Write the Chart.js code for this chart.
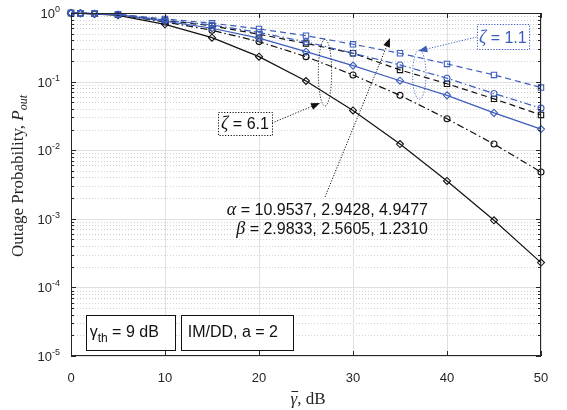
<!DOCTYPE html>
<html><head><meta charset="utf-8">
<script src="https://cdn.jsdelivr.net/npm/chart.js@4/dist/chart.umd.min.js"></script>
<style>html,body{margin:0;padding:0;background:#fff;}#wrap{width:567px;height:410px;}</style>
</head><body><div id="wrap"><canvas id="c" width="567" height="410"></canvas></div>
<script>
// ---- data ----
const gammaDb = [0, 1, 2.5, 5, 10, 15, 20, 25, 30, 35, 40, 45, 50];
const zeta61Solid   = [0.995, 0.99, 0.97, 0.925, 0.684, 0.437, 0.231, 0.102, 0.038, 0.0123, 0.00356, 0.00095, 0.00023];
const zeta61DashDot = [0.996, 0.99, 0.975, 0.94, 0.74, 0.56, 0.383, 0.231, 0.125, 0.063, 0.0287, 0.0123, 0.0048];
const zeta61Dashed  = [0.997, 0.99, 0.978, 0.95, 0.78, 0.65, 0.49, 0.36, 0.259, 0.148, 0.093, 0.056, 0.0327];
const zeta11Solid   = [0.997, 0.99, 0.976, 0.945, 0.76, 0.6, 0.43, 0.273, 0.171, 0.103, 0.063, 0.035, 0.0203];
const zeta11DashDot = [0.997, 0.992, 0.98, 0.955, 0.79, 0.67, 0.52, 0.38, 0.259, 0.175, 0.112, 0.067, 0.041];
const zeta11Dashed  = [0.998, 0.993, 0.982, 0.96, 0.82, 0.71, 0.585, 0.468, 0.35, 0.259, 0.181, 0.125, 0.082];
const xTickValues = [0, 10, 20, 30, 40, 50];
const yTickExponents = [0, -1, -2, -3, -4, -5];

const BLUE = '#3c5cbc', BLACK = '#111111', AXIS = '#262626';
const SANS = '"Liberation Sans", Arial, Helvetica, sans-serif';
const SERIF = '"Liberation Serif", "Times New Roman", serif';

function series(vals, color, dash, style, r) {
  return {
    data: gammaDb.map((g, i) => ({x: g, y: vals[i]})),
    borderColor: color, borderWidth: 1.2, borderDash: dash,
    pointStyle: style, pointRadius: r, pointHoverRadius: r,
    pointBorderColor: color, pointBackgroundColor: 'rgba(0,0,0,0)', pointBorderWidth: 1.1,
    fill: false, tension: 0, clip: false
  };
}
const DASH = [6, 4], DASHDOT = [7, 3, 1.5, 3];

function arrow(ctx, x1, y1, x2, y2, color) {
  ctx.save();
  ctx.strokeStyle = color; ctx.fillStyle = color; ctx.lineWidth = 1;
  ctx.setLineDash([1.2, 1.6]);
  const ang = Math.atan2(y2 - y1, x2 - x1), L = 9, W = 3.5;
  const bx = x2 - L * Math.cos(ang), by = y2 - L * Math.sin(ang);
  ctx.beginPath(); ctx.moveTo(x1, y1); ctx.lineTo(bx, by); ctx.stroke();
  ctx.setLineDash([]);
  ctx.beginPath(); ctx.moveTo(x2, y2);
  ctx.lineTo(bx + W * Math.sin(ang), by - W * Math.cos(ang));
  ctx.lineTo(bx - W * Math.sin(ang), by + W * Math.cos(ang));
  ctx.closePath(); ctx.fill();
  ctx.restore();
}
function ellipse(ctx, cx, cy, rx, ry, color) {
  ctx.save(); ctx.strokeStyle = color; ctx.lineWidth = 1; ctx.setLineDash([1.2, 1.6]);
  ctx.beginPath(); ctx.ellipse(cx, cy, rx, ry, 0, 0, Math.PI * 2); ctx.stroke(); ctx.restore();
}
function zetaBox(ctx, l, t, r, b, label, color) {
  ctx.save();
  ctx.fillStyle = '#fff'; ctx.fillRect(l, t, r - l, b - t);
  ctx.strokeStyle = color; ctx.lineWidth = 1; ctx.setLineDash([1.2, 1.6]);
  ctx.strokeRect(Math.round(l) + 0.5, Math.round(t) + 0.5, Math.round(r - l), Math.round(b - t));
  ctx.setLineDash([]);
  ctx.fillStyle = color; ctx.textBaseline = 'alphabetic';
  ctx.font = 'italic 18px ' + SERIF; const w1 = ctx.measureText('ζ').width;
  ctx.font = '16px ' + SANS; const t2 = ' = ' + label; const w2 = ctx.measureText(t2).width;
  let sx = (l + r) / 2 - (w1 + w2) / 2, base = (t + b) / 2 + 6;
  ctx.font = 'italic 18px ' + SERIF; ctx.fillText('ζ', sx, base);
  ctx.font = '16px ' + SANS; ctx.fillText(t2, sx + w1, base);
  ctx.restore();
}

const frame = {
  id: 'frame',
  beforeDatasetsDraw(chart) {
    const {ctx, chartArea: a, scales: {x, y}} = chart;
    ctx.save(); ctx.lineWidth = 1;
    ctx.strokeStyle = '#d2d2d2'; ctx.setLineDash([1, 2]);
    for (let e = -5; e < 0; e++) for (let k = 2; k <= 9; k++) {
      const p = Math.round(y.getPixelForValue(k * Math.pow(10, e))) + 0.5;
      ctx.beginPath(); ctx.moveTo(a.left, p); ctx.lineTo(a.right, p); ctx.stroke();
    }
    ctx.setLineDash([]); ctx.strokeStyle = '#e0e0e0';
    yTickExponents.forEach(e => {
      const p = Math.round(y.getPixelForValue(Math.pow(10, e))) + 0.5;
      ctx.beginPath(); ctx.moveTo(a.left, p); ctx.lineTo(a.right, p); ctx.stroke();
    });
    xTickValues.forEach(v => {
      const p = Math.round(x.getPixelForValue(v)) + 0.5;
      ctx.beginPath(); ctx.moveTo(p, a.top); ctx.lineTo(p, a.bottom); ctx.stroke();
    });
    ctx.restore();
  },
  afterDatasetsDraw(chart) {
    const {ctx, chartArea: a, scales: {x, y}} = chart;
    const X = v => x.getPixelForValue(v), Y = v => y.getPixelForValue(v);
    ctx.save();
    // annotations
    ellipse(ctx, X(37.05), (Y(0.289) + Y(0.0552)) / 2, X(37.76) - X(37.05), (Y(0.0552) - Y(0.289)) / 2, BLUE);
    ellipse(ctx, X(27.02), (Y(0.414) + Y(0.044)) / 2, X(27.73) - X(27.02), (Y(0.044) - Y(0.414)) / 2, BLACK);
    arrow(ctx, X(43.16), Y(0.447), X(36.95), Y(0.279), BLUE);
    arrow(ctx, X(21.38), Y(0.0249), X(26.49), Y(0.0488), BLACK);
    arrow(ctx, X(27.02), Y(0.00208), X(33.94), Y(0.432), BLACK);
    zetaBox(ctx, X(43.16), Y(0.684), X(48.72), Y(0.299), '1.1', BLUE);
    zetaBox(ctx, X(15.64), Y(0.036), X(21.38), Y(0.0167), '6.1', BLACK);
    // alpha / beta text, right aligned
    ctx.fillStyle = BLACK; ctx.textBaseline = 'alphabetic';
    [['α', ' = 10.9537, 2.9428, 4.9477', 0.00114], ['β', ' = 2.9833, 2.5605, 1.2310', 0.0006]].forEach(([g, t, yv]) => {
      ctx.font = '16px ' + SANS; const wt = ctx.measureText(t).width;
      ctx.font = 'italic 18px ' + SERIF; const wg = ctx.measureText(g).width;
      const right = X(37.98), base = Y(yv);
      ctx.fillText(g, right - wt - wg, base);
      ctx.font = '16px ' + SANS; ctx.fillText(t, right - wt, base);
    });
    // bottom boxes
    const bt = Y(3.96e-5), bb = Y(1.22e-5);
    [[1.56, 10.99], [11.67, 23.54]].forEach(([l, r]) => {
      ctx.fillStyle = '#fff'; ctx.fillRect(X(l), bt, X(r) - X(l), bb - bt);
      ctx.strokeStyle = BLACK; ctx.lineWidth = 1;
      ctx.strokeRect(Math.round(X(l)) + 0.5, Math.round(bt) + 0.5, Math.round(X(r) - X(l)), Math.round(bb - bt));
    });
    ctx.fillStyle = BLACK;
    let sx = X(1.56) + 4, base = (bt + bb) / 2 + 4;
    ctx.font = '16px ' + SANS; ctx.fillText('γ', sx, base); sx += ctx.measureText('γ').width;
    ctx.font = '12px ' + SANS; ctx.fillText('th', sx, base + 5); sx += ctx.measureText('th').width;
    ctx.font = '16px ' + SANS; ctx.fillText(' = 9 dB', sx, base);
    ctx.fillText('IM/DD, a = 2', X(11.67) + 7, base);

    // axes box
    ctx.strokeStyle = AXIS; ctx.lineWidth = 1; ctx.setLineDash([]);
    ctx.strokeRect(a.left + 0.5, a.top + 0.5, a.right - a.left - 1, a.bottom - a.top - 1);
    // ticks
    ctx.beginPath();
    for (let e = -5; e <= 0; e++) for (let k = 1; k <= 9; k++) {
      const v = k * Math.pow(10, e); if (v > 1) break;
      const p = Math.round(Y(v)) + 0.5, L = k === 1 ? 5 : 3;
      ctx.moveTo(a.left, p); ctx.lineTo(a.left + L, p);
      ctx.moveTo(a.right, p); ctx.lineTo(a.right - L, p);
    }
    xTickValues.forEach(v => {
      const p = Math.round(X(v)) + 0.5;
      ctx.moveTo(p, a.bottom); ctx.lineTo(p, a.bottom - 5);
      ctx.moveTo(p, a.top); ctx.lineTo(p, a.top + 5);
    });
    ctx.stroke();
    // x tick labels
    ctx.fillStyle = AXIS; ctx.font = '13px ' + SANS; ctx.textAlign = 'center';
    xTickValues.forEach(v => ctx.fillText(String(v), X(v), a.bottom + 26));
    // y tick labels 10^e
    ctx.textAlign = 'left';
    yTickExponents.forEach(e => {
      const p = Y(Math.pow(10, e)), ex = String(e);
      ctx.font = '9px ' + SANS; const we = ctx.measureText(ex).width;
      ctx.font = '13px ' + SANS; const wb = ctx.measureText('10').width;
      const right = a.left - 11;
      ctx.fillText('10', right - we - wb, p + 5);
      ctx.font = '9px ' + SANS; ctx.fillText(ex, right - we, p - 1);
    });
    // x title
    ctx.font = 'italic 17px ' + SERIF; const wg = ctx.measureText('γ').width;
    ctx.font = '17px ' + SERIF; const wr = ctx.measureText(', dB').width;
    let tx = (a.left + a.right) / 2 - (wg + wr) / 2 + 2; const tb = a.bottom + 48;
    ctx.font = 'italic 17px ' + SERIF; ctx.fillText('γ', tx, tb);
    ctx.beginPath(); ctx.moveTo(tx + 1, tb - 12.5); ctx.lineTo(tx + wg + 1, tb - 12.5); ctx.stroke();
    ctx.font = '17px ' + SERIF; ctx.fillText(', dB', tx + wg, tb);
    // y title
    ctx.save(); ctx.translate(19, 176); ctx.rotate(-Math.PI / 2);
    const p1 = 'Outage Probability, ';
    ctx.font = '17px ' + SERIF; const w1 = ctx.measureText(p1).width;
    ctx.font = 'italic 17px ' + SERIF; const w2 = ctx.measureText('P').width;
    ctx.font = 'italic 12px ' + SERIF; const w3 = ctx.measureText('out').width;
    let s = -(w1 + w2 + w3) / 2; ctx.textBaseline = 'middle';
    ctx.font = '17px ' + SERIF; ctx.fillText(p1, s, 0); s += w1;
    ctx.font = 'italic 17px ' + SERIF; ctx.fillText('P', s, 0); s += w2;
    ctx.font = 'italic 12px ' + SERIF; ctx.fillText('out', s, 5);
    ctx.restore();
    ctx.restore();
  }
};

new Chart(document.getElementById('c'), {
  type: 'line',
  data: {
    datasets: [
      series(zeta11Dashed, BLUE, DASH, 'rect', 3.8),
      series(zeta11DashDot, BLUE, DASHDOT, 'circle', 3),
      series(zeta11Solid, BLUE, [], 'rectRot', 3.5),
      series(zeta61Dashed, BLACK, DASH, 'rect', 3.8),
      series(zeta61DashDot, BLACK, DASHDOT, 'circle', 3),
      series(zeta61Solid, BLACK, [], 'rectRot', 3.5)
    ]
  },
  options: {
    responsive: false, animation: false, devicePixelRatio: 1,
    layout: {padding: {left: 71, right: 26, top: 13, bottom: 54}},
    plugins: {legend: {display: false}, tooltip: {enabled: false}},
    scales: {
      x: {type: 'linear', min: 0, max: 50, display: false},
      y: {type: 'logarithmic', min: 1e-5, max: 1, display: false}
    }
  },
  plugins: [frame]
});
</script>
</body></html>
